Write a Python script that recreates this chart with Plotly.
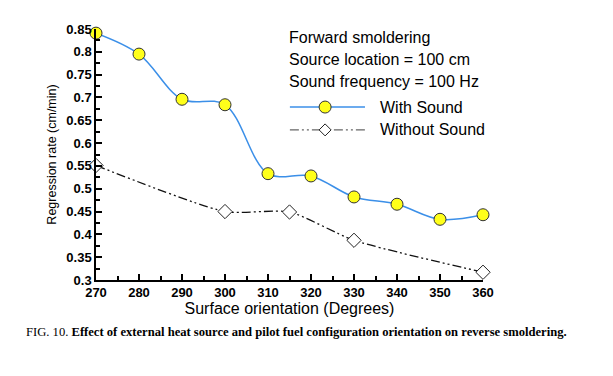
import plotly.graph_objects as go

x_with = [270, 280, 290, 300, 310, 320, 330, 340, 350, 360]
y_with = [0.841, 0.795, 0.696, 0.684, 0.533, 0.528, 0.482, 0.466, 0.433, 0.443]
x_without = [270, 300, 315, 330, 360]
y_without = [0.551, 0.450, 0.449, 0.387, 0.317]

x_ticks = [270, 280, 290, 300, 310, 320, 330, 340, 350, 360]
y_ticks = [0.3, 0.35, 0.4, 0.45, 0.5, 0.55, 0.6, 0.65, 0.7, 0.75, 0.8, 0.85]
y_labels = ["0.3", "0.35", "0.4", "0.45", "0.5", "0.55", "0.6", "0.65", "0.7", "0.75", "0.8", "0.85"]

BLUE = "#3b8fe8"
DASH = "9px,3px,2px,3px,2px,3px"

fig = go.Figure()
fig.add_trace(go.Scatter(
    x=x_with, y=y_with, mode="lines+markers", name="With Sound",
    line=dict(color=BLUE, width=1.5, shape="spline", smoothing=1.0),
    marker=dict(symbol="circle", size=12, color="#ffff1a", line=dict(color="#333333", width=1)),
    cliponaxis=False,
))
fig.add_trace(go.Scatter(
    x=x_without, y=y_without, mode="lines+markers", name="Without Sound",
    line=dict(color="#111111", width=1.3, shape="spline", smoothing=0.6, dash=DASH),
    marker=dict(symbol="diamond", size=11, color="white", line=dict(color="#222222", width=1)),
    cliponaxis=False,
))

axis_font = dict(family="Liberation Sans", size=13, color="black", weight="bold")
fig.update_layout(
    width=605, height=368,
    margin=dict(l=88, r=130, t=21, b=96),
    paper_bgcolor="white", plot_bgcolor="white",
    font=dict(family="Liberation Sans", color="black"),
    showlegend=False,
    xaxis=dict(range=[270, 360], tickvals=x_ticks, showline=True, linecolor="black", linewidth=1.5,
               ticks="inside", ticklen=6, tickwidth=1.5, tickcolor="black", showgrid=False, zeroline=False,
               tickfont=axis_font, minor=dict(dtick=5, ticks="inside", ticklen=4, tickwidth=1.5, tickcolor="black", showgrid=False),
               title=dict(text="Surface orientation (Degrees)", font=dict(size=16, family="Liberation Sans"), standoff=0)),
    yaxis=dict(range=[0.3, 0.85], tickvals=y_ticks, ticktext=y_labels, showline=True, linecolor="black", linewidth=1.5,
               ticks="inside", ticklen=6, tickwidth=1.5, tickcolor="black", showgrid=False, zeroline=False,
               tickfont=axis_font, minor=dict(dtick=0.025, ticks="inside", ticklen=4, tickwidth=1.5, tickcolor="black", showgrid=False),
               title=dict(text="Regression rate (cm/min)", font=dict(size=12.5, family="Liberation Sans"), standoff=7)),
)

notes = ["Forward smoldering", "Source location = 100 cm", "Sound frequency = 100 Hz"]
note_y = [0.968, 0.878, 0.790]
for t, yy in zip(notes, note_y):
    fig.add_annotation(text=t, xref="paper", yref="paper", x=0.494, y=yy,
                       xanchor="left", yanchor="middle", showarrow=False,
                       font=dict(size=16, family="Liberation Sans", color="black"))

# manual legend
leg_x0, leg_x1, leg_xm, leg_xt = 0.501, 0.695, 0.592, 0.729
leg_items = [("With Sound", 0.689, BLUE, "solid", 1.5), ("Without Sound", 0.598, "#666666", DASH, 1.3)]
for name, yy, col, dash, w in leg_items:
    fig.add_shape(type="line", xref="paper", yref="paper", x0=leg_x0, x1=leg_x1, y0=yy, y1=yy,
                  line=dict(color=col, width=w, dash=dash))
    fig.add_annotation(text=name, xref="paper", yref="paper", x=leg_xt, y=yy,
                       xanchor="left", yanchor="middle", showarrow=False,
                       font=dict(size=16, family="Liberation Sans", color="black"))
fig.add_shape(type="circle", xref="paper", yref="paper", xsizemode="pixel", ysizemode="pixel",
              xanchor=leg_xm, yanchor=0.689, x0=-6, x1=6, y0=-6, y1=6,
              fillcolor="#ffff1a", line=dict(color="#333333", width=1))
fig.add_shape(type="path", xref="paper", yref="paper", xsizemode="pixel", ysizemode="pixel",
              xanchor=leg_xm, yanchor=0.598, path="M -6 0 L 0 6 L 6 0 L 0 -6 Z",
              fillcolor="white", line=dict(color="#222222", width=1))

fig.add_annotation(text="FIG. 10. <b>Effect of external heat source and pilot fuel configuration orientation on reverse smoldering.</b>",
                   xref="paper", yref="paper", x=-0.186, y=-0.207, xanchor="left", yanchor="middle",
                   showarrow=False, font=dict(size=12.6, family="Liberation Serif", color="black"))

fig.write_html("out.html")
